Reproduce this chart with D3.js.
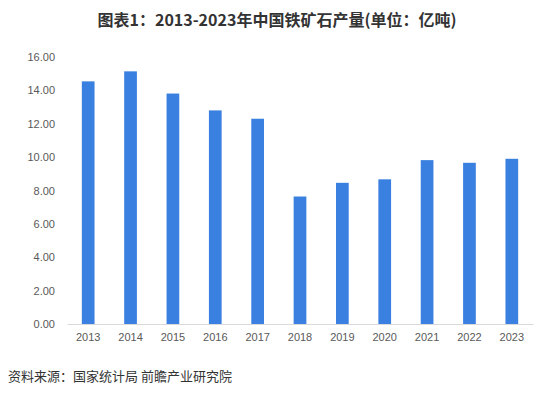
<!DOCTYPE html>
<html>
<head>
<meta charset="utf-8">
<script src="https://cdn.jsdelivr.net/npm/d3@7"></script>
<style>
  body { margin: 0; background: #fff; }
  svg { display: block; font-family: "Liberation Sans", "Noto Sans CJK SC", sans-serif; }
</style>
</head>
<body>
<div id="chart"></div>
<script>
// data (亿吨)
const years = ['2013', '2014', '2015', '2016', '2017', '2018', '2019', '2020', '2021', '2022', '2023'];
const output = [14.54, 15.14, 13.81, 12.80, 12.30, 7.64, 8.46, 8.67, 9.82, 9.66, 9.90];
const yTicks = [0, 2, 4, 6, 8, 10, 12, 14, 16];

const width = 556, height = 397;
const margin = { top: 57, right: 23, bottom: 73, left: 67 };

const svg = d3.select('#chart').append('svg')
    .attr('width', width)
    .attr('height', height);

// title
svg.append('text')
    .attr('x', 277)
    .attr('y', 26)
    .attr('text-anchor', 'middle')
    .style('font-family', '"Noto Sans CJK SC", sans-serif')
    .style('font-size', '16px')
    .style('font-weight', 'bold')
    .style('fill', '#333')
    .text('图表1：2013-2023年中国铁矿石产量(单位：亿吨)');

const x = d3.scaleBand()
    .domain(years)
    .range([margin.left, width - margin.right])
    .paddingInner(0.7)
    .paddingOuter(0.35);

const y = d3.scaleLinear()
    .domain([0, 16])
    .range([height - margin.bottom, margin.top]);

// y axis labels (no line)
const yAxis = svg.append('g')
    .attr('transform', `translate(${margin.left},0)`)
    .call(d3.axisLeft(y).tickValues(yTicks).tickFormat(d3.format('.2f')).tickSize(0).tickPadding(12));
yAxis.select('.domain').remove();
yAxis.selectAll('text')
    .style('font-size', '11px')
    .style('fill', '#595959');

// bars
svg.selectAll('rect.bar')
    .data(output)
    .enter()
    .append('rect')
    .attr('class', 'bar')
    .attr('x', (d, i) => x(years[i]))
    .attr('y', d => y(d))
    .attr('width', x.bandwidth())
    .attr('height', d => y(0) - y(d))
    .style('fill', '#3a80e0');

// x axis
const xAxis = svg.append('g')
    .attr('transform', `translate(0,${y(0)})`)
    .call(d3.axisBottom(x).tickSize(0).tickPadding(9));
xAxis.select('.domain')
    .attr('stroke', '#d9d9d9');
xAxis.selectAll('text')
    .style('font-size', '11px')
    .style('fill', '#595959');

// source note
svg.append('text')
    .attr('x', 8)
    .attr('y', 381)
    .style('font-family', '"Noto Sans CJK SC", sans-serif')
    .style('font-size', '13px')
    .style('fill', '#333')
    .text('资料来源：国家统计局 前瞻产业研究院');
</script>
</body>
</html>
